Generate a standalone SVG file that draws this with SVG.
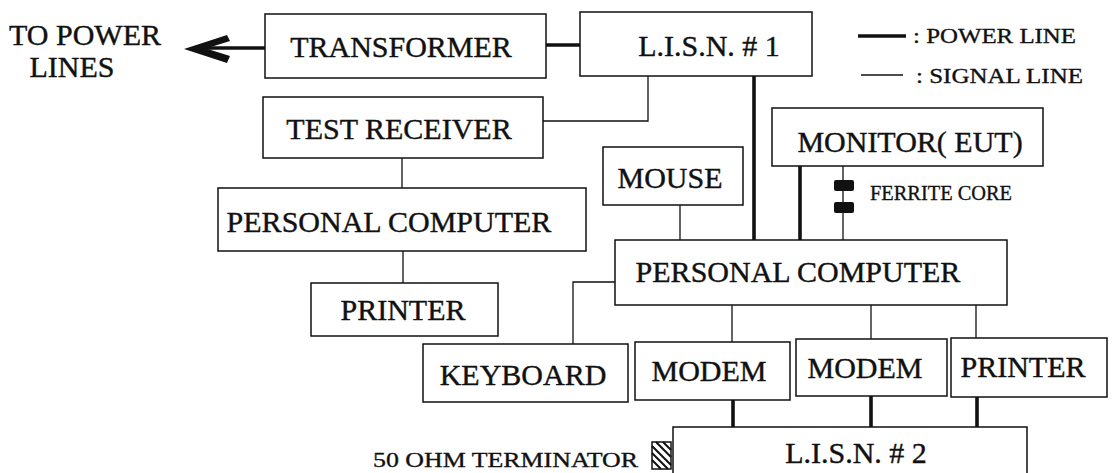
<svg xmlns="http://www.w3.org/2000/svg" width="1116" height="473" viewBox="0 0 1116 473">
<defs>
<style>
.box{fill:#fff;stroke:#111;stroke-width:1.5}
.t{font-family:"Liberation Serif","Times New Roman",serif;font-size:30px;fill:#111;stroke:#111;stroke-width:0.4;text-anchor:middle}
.s{font-family:"Liberation Serif","Times New Roman",serif;font-size:22px;fill:#111;stroke:#111;stroke-width:0.35}
.sig{fill:none;stroke:#111;stroke-width:1.3}
.pwr{fill:none;stroke:#111;stroke-width:3.6}
</style>
</defs>
<rect width="1116" height="473" fill="#fff"/>
<g id="connectors">
<line class="pwr" x1="200" y1="48" x2="265" y2="48"/>
<polygon points="184,49 227,35 230,41 206,48.5 230,56 227,63" fill="#111"/>
<line class="pwr" x1="546" y1="45" x2="580" y2="45"/>
<polyline class="sig" points="648,76 648,121 543,121"/>
<line class="sig" x1="402" y1="158" x2="402" y2="188"/>
<line class="sig" x1="403" y1="251" x2="403" y2="283"/>
<line class="pwr" x1="754" y1="76" x2="754" y2="240"/>
<line class="sig" x1="680" y1="205" x2="680" y2="240"/>
<line class="pwr" x1="800" y1="166" x2="800" y2="240"/>
<line class="sig" x1="843" y1="166" x2="843" y2="240"/>
<rect x="834" y="180" width="20" height="11" rx="2" fill="#111"/>
<rect x="834" y="202" width="20" height="11" rx="2" fill="#111"/>
<polyline class="sig" points="615,282 573,282 573,344"/>
<line class="sig" x1="732" y1="305" x2="732" y2="342"/>
<line class="sig" x1="871" y1="305" x2="871" y2="339"/>
<line class="sig" x1="976" y1="305" x2="976" y2="338"/>
<line class="pwr" x1="733" y1="400" x2="733" y2="427"/>
<line class="pwr" x1="871" y1="396" x2="871" y2="427"/>
<line class="pwr" x1="977" y1="397" x2="977" y2="427"/>
</g>
<g id="to-power-lines">
<text class="t" x="85" y="45">TO POWER</text>
<text class="t" x="72" y="77">LINES</text>
</g>
<g id="transformer">
<rect class="box" x="265" y="14" width="281" height="64"/>
<text class="t" x="401" y="57">TRANSFORMER</text>
</g>
<g id="lisn1">
<rect class="box" x="580" y="12" width="232" height="64"/>
<text class="t" x="709" y="56">L.I.S.N. # 1</text>
</g>
<g id="legend">
<line class="pwr" x1="858" y1="36" x2="906" y2="36"/>
<text class="s" x="913" y="43" textLength="163" lengthAdjust="spacingAndGlyphs">: POWER LINE</text>
<line class="sig" x1="861" y1="75" x2="903" y2="75"/>
<text class="s" x="916" y="83" textLength="167" lengthAdjust="spacingAndGlyphs">: SIGNAL LINE</text>
</g>
<g id="test-receiver">
<rect class="box" x="263" y="97" width="280" height="61"/>
<text class="t" x="399" y="139">TEST RECEIVER</text>
</g>
<g id="monitor">
<rect class="box" x="772" y="108" width="271" height="58"/>
<text class="t" x="910" y="152">MONITOR( EUT)</text>
</g>
<g id="ferrite-core">
<text class="s" x="870" y="200" font-size="20" textLength="142" lengthAdjust="spacingAndGlyphs">FERRITE CORE</text>
</g>
<g id="mouse">
<rect class="box" x="603" y="147" width="140" height="58"/>
<text class="t" x="670" y="188">MOUSE</text>
</g>
<g id="pc1">
<rect class="box" x="218" y="188" width="368" height="63"/>
<text class="t" x="389" y="232">PERSONAL COMPUTER</text>
</g>
<g id="printer1">
<rect class="box" x="311" y="283" width="187" height="53"/>
<text class="t" x="403" y="320">PRINTER</text>
</g>
<g id="pc2">
<rect class="box" x="615" y="240" width="392" height="65"/>
<text class="t" x="798" y="282">PERSONAL COMPUTER</text>
</g>
<g id="keyboard">
<rect class="box" x="423" y="344" width="205" height="58"/>
<text class="t" x="523" y="385">KEYBOARD</text>
</g>
<g id="modem1">
<rect class="box" x="635" y="342" width="155" height="58"/>
<text class="t" x="709" y="381">MODEM</text>
</g>
<g id="modem2">
<rect class="box" x="796" y="339" width="151" height="57"/>
<text class="t" x="865" y="378">MODEM</text>
</g>
<g id="printer2">
<rect class="box" x="951" y="338" width="156" height="59"/>
<text class="t" x="1023" y="377">PRINTER</text>
</g>
<g id="lisn2">
<rect class="box" x="673" y="427" width="354" height="60"/>
<text class="t" x="856" y="463">L.I.S.N. # 2</text>
</g>
<g id="terminator">
<text class="s" x="373" y="467" font-size="23" textLength="265" lengthAdjust="spacingAndGlyphs">50 OHM TERMINATOR</text>
<rect x="652" y="442" width="19" height="27" fill="#fff" stroke="#111" stroke-width="1.5"/>
<path d="M652,446 L671,465 M652,453 L668,469 M652,460 L661,469 M656,442 L671,457 M663,442 L671,450" stroke="#111" stroke-width="2" fill="none"/>
</g>
</svg>
